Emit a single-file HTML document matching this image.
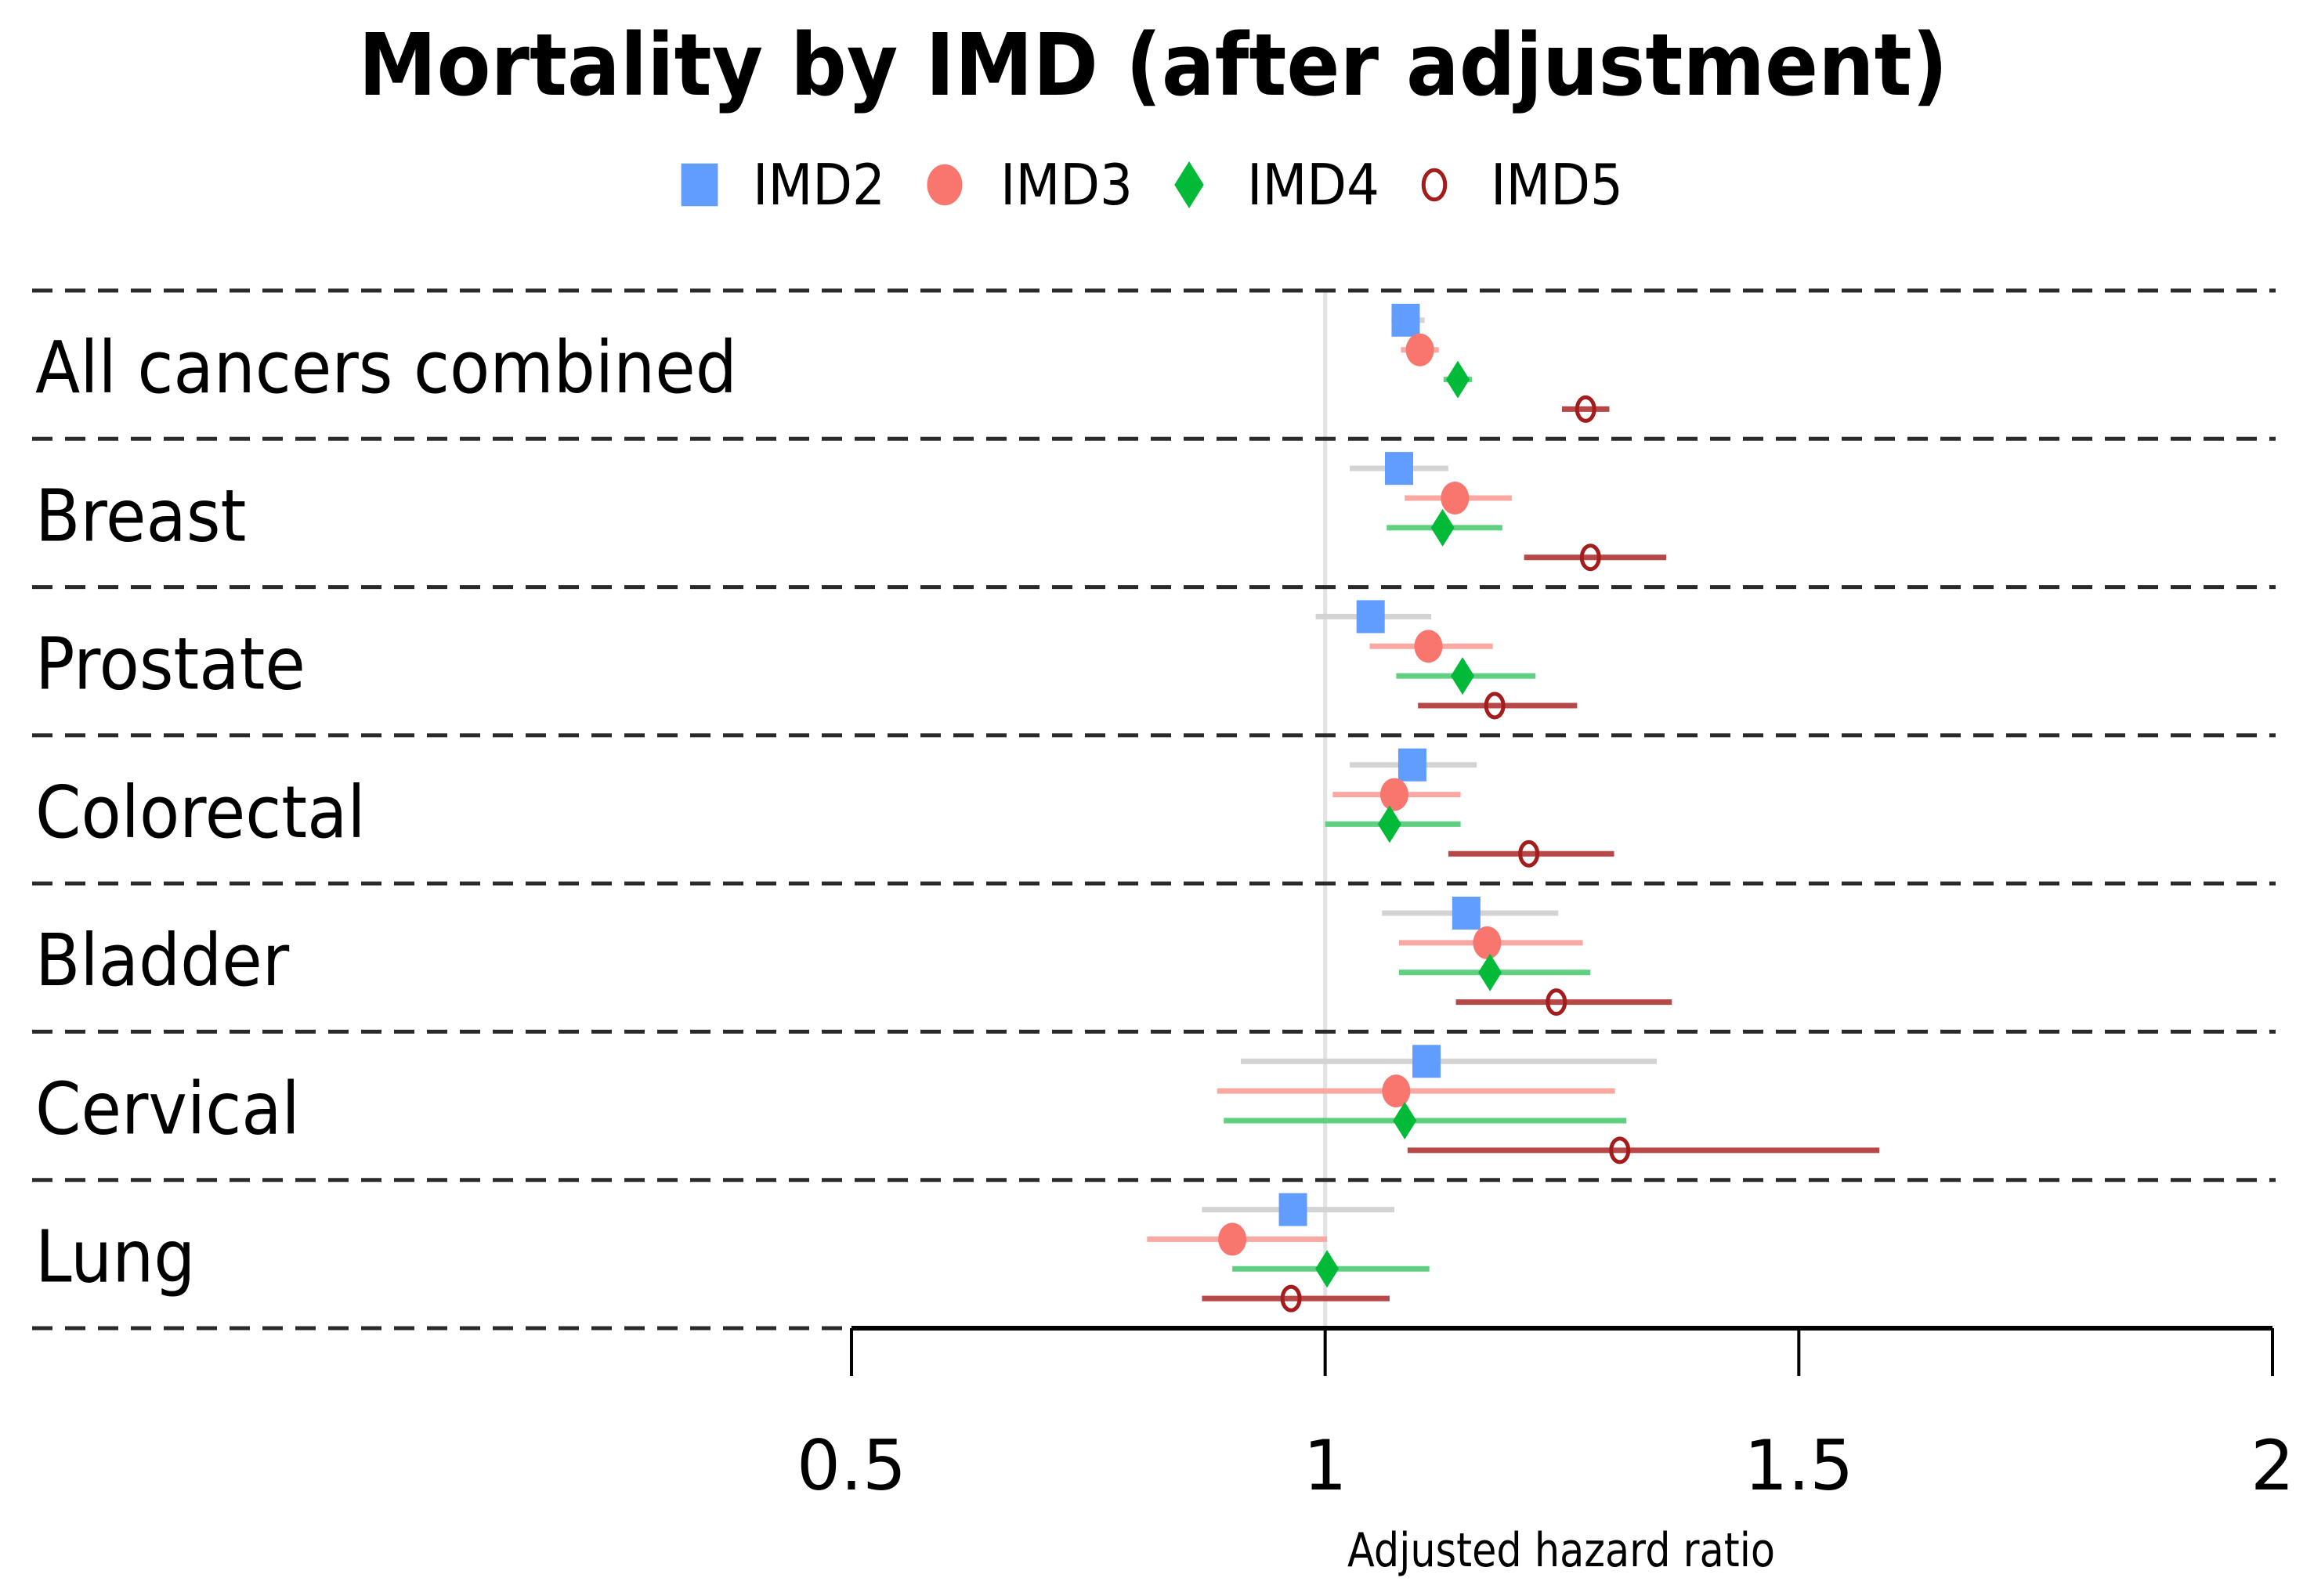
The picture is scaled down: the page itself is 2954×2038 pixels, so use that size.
<!DOCTYPE html>
<html><head><meta charset="utf-8"><style>html,body{margin:0;padding:0;background:#fff}svg{display:block}</style></head>
<body>
<svg id="chart" width="2954" height="2038" viewBox="0 0 2954 2038" xmlns="http://www.w3.org/2000/svg" font-family="DejaVu Sans, Liberation Sans, sans-serif">
<text x="1472" y="121" text-anchor="middle" font-weight="bold" font-size="110" textLength="2029" lengthAdjust="spacingAndGlyphs">Mortality by IMD (after adjustment)</text>
<g id="legend"></g>
<g id="grid"></g>
<g id="marks"></g>
<g id="axis"></g>
<text x="1720" y="2000" font-size="60" textLength="546" lengthAdjust="spacingAndGlyphs">Adjusted hazard ratio</text>
</svg>
<script>
const categories = ["All cancers combined","Breast","Prostate","Colorectal","Bladder","Cervical","Lung"];
const seriesNames = ["IMD2","IMD3","IMD4","IMD5"];
const imd2 = [1.085,1.078,1.048,1.092,1.149,1.107,0.966];
const imd2Lo = [1.07,1.026,0.99,1.026,1.06,0.911,0.87];
const imd2Hi = [1.105,1.13,1.112,1.16,1.246,1.35,1.073];
const imd3 = [1.10,1.137,1.109,1.073,1.171,1.075,0.902];
const imd3Lo = [1.08,1.084,1.047,1.008,1.078,0.886,0.812];
const imd3Hi = [1.12,1.197,1.177,1.143,1.272,1.306,1.002];
const imd4 = [1.14,1.124,1.145,1.068,1.174,1.084,1.002];
const imd4Lo = [1.125,1.065,1.075,1.0,1.078,0.893,0.902];
const imd4Hi = [1.155,1.187,1.222,1.143,1.28,1.318,1.11];
const imd5 = [1.275,1.28,1.179,1.215,1.244,1.311,0.964];
const imd5Lo = [1.25,1.21,1.098,1.13,1.138,1.087,0.87];
const imd5Hi = [1.30,1.36,1.266,1.305,1.366,1.585,1.068];
const xTicks = [0.5,1,1.5,2];
const xTickLabels = ["0.5","1","1.5","2"];

const NS="http://www.w3.org/2000/svg";
function mk(tag,attrs,parent){const e=document.createElementNS(NS,tag);for(const k in attrs)e.setAttribute(k,attrs[k]);parent.appendChild(e);return e;}
const X0=1087,X1=2901,V0=0.5,V1=2;
function xs(v){return X0+(v-V0)/(V1-V0)*(X1-X0);}
const TOP=371,ROWH=(1696-371)/categories.length;
function rowTop(i){return TOP+i*ROWH;}
function ys(i,j){return rowTop(i)+ROWH*(j+1)/5;}
const colors=["#619cff","#f8766d","#00ba38","#a51c1c"];
const ciColors=["#d3d3d3","#f9a8a2","#5fd07f","#b84848"];
const est=[imd2,imd3,imd4,imd5],lo=[imd2Lo,imd3Lo,imd4Lo,imd5Lo],hi=[imd2Hi,imd3Hi,imd4Hi,imd5Hi];

function marker(j,cx,cy,parent,s){
  s=s||1;let e;
  if(j===0){e=mk('rect',{x:cx-18*s,y:cy-21*s,width:36*s,height:42*s,fill:colors[0]},parent);}
  else if(j===1){e=mk('ellipse',{cx:cx,cy:cy,rx:18*s,ry:21*s,fill:colors[1]},parent);}
  else if(j===2){e=mk('polygon',{points:`${cx},${cy-24*s} ${cx+15*s},${cy} ${cx},${cy+24*s} ${cx-15*s},${cy}`,fill:colors[2]},parent);}
  else {e=mk('ellipse',{cx:cx,cy:cy,rx:11*s,ry:15*s,fill:"none",stroke:colors[3],"stroke-width":5},parent);}
  return e;
}

const lg=document.getElementById('legend');
const legX=[893,1206,1518,1831],legT=[961,1277,1592,1903];
seriesNames.forEach((n,j)=>{
  const g=mk('g',{},lg);
  
  
  marker(j,legX[j],236,g,j===0?1.3:1.25);
  const t=mk('text',{x:legT[j],y:261,"font-size":72,textLength:169,lengthAdjust:"spacingAndGlyphs"},g);
  t.textContent=n;
});

const gr=document.getElementById('grid');
const ref=mk('line',{x1:xs(1),x2:xs(1),y1:TOP,y2:1696,stroke:"#e2e2e2","stroke-width":5},gr);


for(let i=0;i<=categories.length;i++){
  const y=rowTop(i);
  const l=mk('line',{x1:41,x2:i===categories.length?X0:2905,y1:y,y2:y,stroke:"#2a2a2a","stroke-width":5,"stroke-dasharray":"26 16"},gr);
  
  
}
categories.forEach((c,i)=>{
  const t=mk('text',{x:45,y:rowTop(i)+130,"font-size":92},gr);
  
  
  t.textContent=c;
  const w=t.getComputedTextLength();
  t.setAttribute('textLength',(w*0.91).toFixed(1));
  t.setAttribute('lengthAdjust','spacingAndGlyphs');
});

const mg=document.getElementById('marks');
categories.forEach((c,i)=>{
  for(let j=0;j<4;j++){
    const y=ys(i,j);
    const l=mk('line',{x1:xs(lo[j][i]),x2:xs(hi[j][i]),y1:y,y2:y,stroke:ciColors[j],"stroke-width":7},mg);
    
    
    const m=marker(j,xs(est[j][i]),y,mg);
    
    
  }
});

const ax=document.getElementById('axis');
const al=mk('line',{x1:X0,x2:X1,y1:1696,y2:1696,stroke:"#000","stroke-width":6},ax);


xTicks.forEach((v,k)=>{
  const t=mk('line',{x1:xs(v),x2:xs(v),y1:1696,y2:1757,stroke:"#000","stroke-width":4},ax);
  
  
  const tx=mk('text',{x:xs(v),y:1902,"font-size":88,"text-anchor":"middle"},ax);
  
  
  tx.textContent=xTickLabels[k];
});
</script>
</body></html>
